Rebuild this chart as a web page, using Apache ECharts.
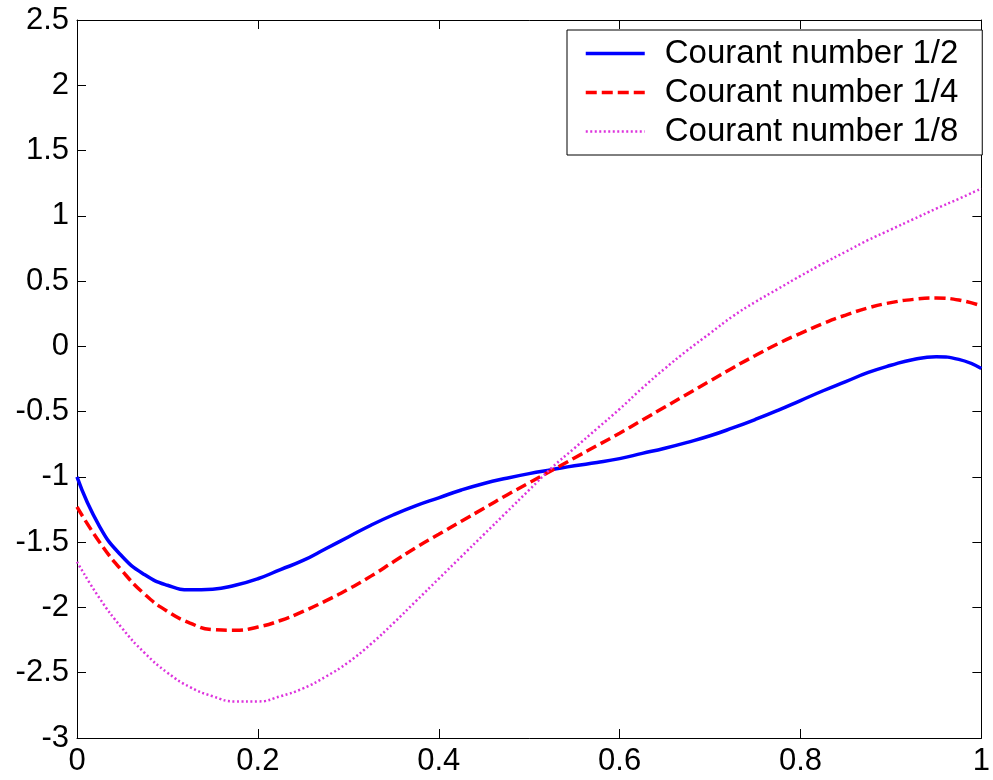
<!DOCTYPE html>
<html>
<head>
<meta charset="utf-8">
<script src="https://cdn.jsdelivr.net/npm/echarts@6/dist/echarts.min.js"></script>
<style>
  html, body { margin: 0; padding: 0; background: #fff; }
  #chart { width: 993px; height: 780px; }
</style>
</head>
<body>
<div id="chart"></div>
<script>
// x positions (step 0.025)
const xs = [0, 0.025, 0.05, 0.075, 0.1, 0.125, 0.15, 0.175, 0.2, 0.225,
            0.25, 0.275, 0.3, 0.325, 0.35, 0.375, 0.4, 0.425, 0.45, 0.475,
            0.5, 0.525, 0.55, 0.575, 0.6, 0.625, 0.65, 0.675, 0.7, 0.725,
            0.75, 0.775, 0.8, 0.825, 0.85, 0.875, 0.9, 0.925, 0.95, 0.975, 1.0];

const courantHalf = [-1.00, -1.38, -1.61, -1.75, -1.83, -1.865, -1.86, -1.83, -1.78, -1.71,
                     -1.64, -1.55, -1.46, -1.37, -1.29, -1.22, -1.16, -1.10, -1.05, -1.01,
                     -0.975, -0.945, -0.915, -0.89, -0.86, -0.82, -0.78, -0.735, -0.685, -0.625,
                     -0.56, -0.49, -0.415, -0.34, -0.27, -0.20, -0.145, -0.10, -0.08, -0.10, -0.17];
const courantQuarter = [-1.23, -1.50, -1.72, -1.90, -2.03, -2.12, -2.17, -2.175, -2.15, -2.10,
                        -2.03, -1.95, -1.86, -1.76, -1.65, -1.54, -1.44, -1.34, -1.24, -1.14,
                        -1.045, -0.95, -0.855, -0.76, -0.665, -0.565, -0.465, -0.365, -0.265, -0.165,
                        -0.07, 0.02, 0.10, 0.175, 0.24, 0.295, 0.335, 0.36, 0.37, 0.355, 0.31];
const courantEighth = [-1.65, -1.93, -2.16, -2.35, -2.50, -2.61, -2.68, -2.72, -2.72, -2.68,
                       -2.62, -2.53, -2.42, -2.28, -2.12, -1.95, -1.78, -1.61, -1.44, -1.27,
                       -1.10, -0.93, -0.78, -0.63, -0.48, -0.32, -0.17, -0.03, 0.10, 0.23,
                       0.34, 0.44, 0.54, 0.635, 0.725, 0.815, 0.895, 0.975, 1.055, 1.13, 1.21];

const seriesNames = ['Courant number 1/2', 'Courant number 1/4', 'Courant number 1/8'];

function pairs(ys) {
    return xs.map((x, i) => [x, ys[i]]);
}

const chart = echarts.init(document.getElementById('chart'));

const axisLine = { show: true, onZero: false, lineStyle: { color: '#000', width: 1 } };
const axisTick = { inside: true, length: 9, lineStyle: { color: '#000' } };
const label = { color: '#000', fontSize: 31, fontFamily: 'Liberation Sans, Arial, sans-serif' };

const styles = [
    { color: '#0000ff', width: 3.5, type: 'solid' },
    { color: '#ff0000', width: 3.5, type: [11, 5] },
    { color: '#dd33dd', width: 2.5, type: [2, 2.5] }
];

const option = {
    animation: false,
    backgroundColor: '#fff',
    grid: { left: 77, right: 4, top: 20, bottom: 42, containLabel: false },
    xAxis: [
        {
            type: 'value', min: 0, max: 1, interval: 0.2,
            axisLine: axisLine, axisTick: axisTick,
            axisLabel: Object.assign({ margin: 8 }, label),
            splitLine: { show: false }
        },
        {
            type: 'value', min: 0, max: 1, interval: 0.2, position: 'top',
            axisLine: axisLine, axisTick: axisTick,
            axisLabel: { show: false },
            splitLine: { show: false }
        }
    ],
    yAxis: [
        {
            type: 'value', min: -3, max: 2.5, interval: 0.5,
            axisLine: axisLine, axisTick: axisTick,
            axisLabel: Object.assign({ margin: 8 }, label),
            splitLine: { show: false }
        },
        {
            type: 'value', min: -3, max: 2.5, interval: 0.5, position: 'right',
            axisLine: axisLine, axisTick: axisTick,
            axisLabel: { show: false },
            splitLine: { show: false }
        }
    ],
    legend: {
        orient: 'vertical',
        left: 567,
        top: 30,
        padding: [7, 24, 7, 17],
        itemGap: 6,
        itemWidth: 59,
        itemHeight: 33,
        borderColor: '#000',
        borderWidth: 1,
        borderRadius: 0,
        backgroundColor: '#fff',
        itemStyle: { opacity: 0 },
        textStyle: {
            color: '#000', fontSize: 33, lineHeight: 33,
            fontFamily: 'Liberation Sans, Arial, sans-serif',
            padding: [0, 0, 0, 15]
        },
        data: seriesNames.map((name, i) => ({ name: name, lineStyle: styles[i] }))
    },
    series: seriesNames.map((name, i) => ({
        name: name, type: 'line', smooth: true, symbol: 'none',
        data: pairs([courantHalf, courantQuarter, courantEighth][i]),
        lineStyle: styles[i],
        itemStyle: { color: styles[i].color }
    }))
};

chart.setOption(option);
</script>
</body>
</html>
